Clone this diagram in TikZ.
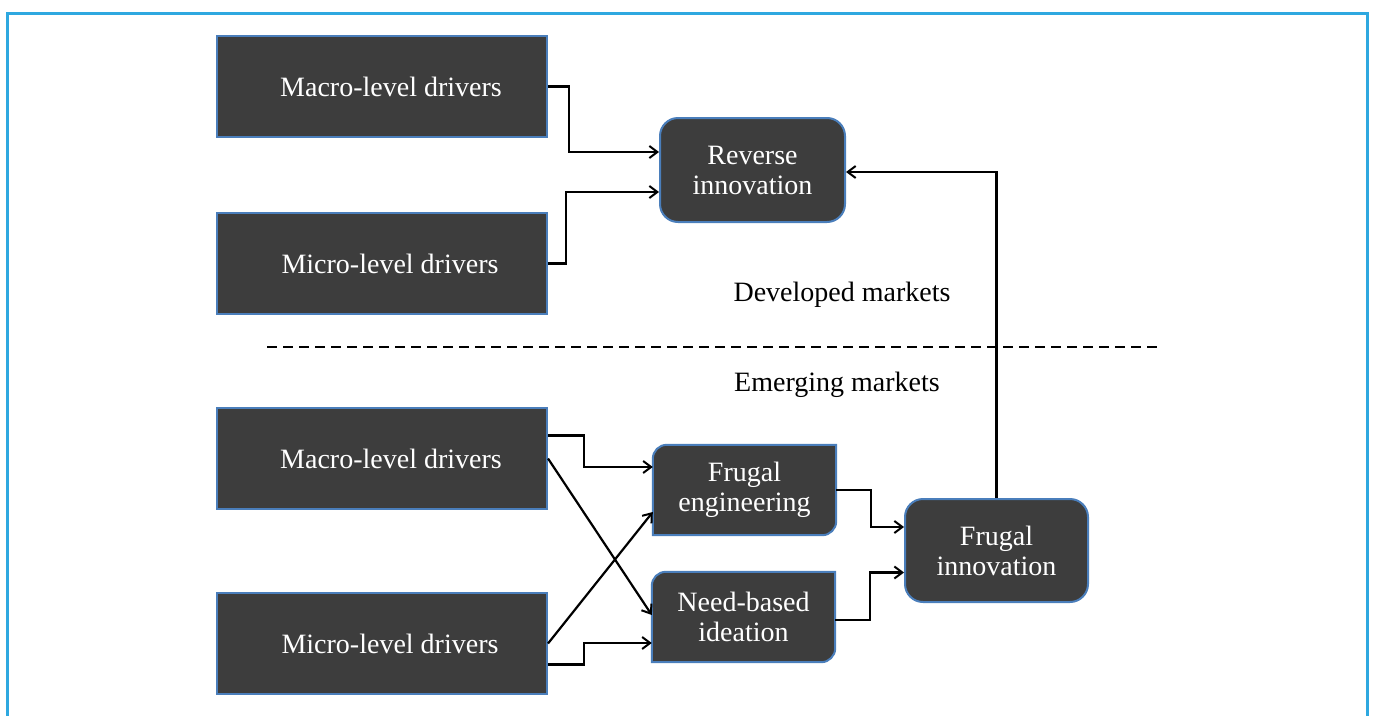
\documentclass[tikz,border=0pt]{standalone}
\usepackage{fontspec}
\setmainfont{Liberation Serif}
\usetikzlibrary{arrows.meta,calc,backgrounds}
\definecolor{frameblue}{HTML}{2EA8E0}
\definecolor{boxgray}{HTML}{3D3D3D}
\definecolor{boxedge}{HTML}{4A7EBB}
\begin{document}
\begin{tikzpicture}[x=1pt,y=-1pt,
  txt/.style={font=\fontsize{28}{30}\selectfont},
  sqbox/.style={txt,draw=boxedge,fill=boxgray,text=white,line width=2pt,minimum width=330pt,minimum height=101pt,inner sep=0pt},
  rbox/.style={txt,draw=boxedge,fill=boxgray,text=white,line width=2pt,rounded corners=18pt,align=center,inner sep=0pt},
  dbox/.style={txt,text=white,align=center,inner sep=0pt,minimum width=183pt,minimum height=90pt},
  diagshape/.style={draw=boxedge,fill=boxgray,line width=2pt},
  conn/.style={line width=2.2pt,-{Straight Barb[length=8pt,width=12pt,line width=2pt]}},
  plain/.style={line width=2.2pt},
  lbl/.style={txt,text=black}
]
\useasboundingbox (0,0) rectangle (1373,715);
\draw[frameblue,line width=3pt] (7,716) -- (7,13) -- (1367,13) -- (1367,716);

\node[sqbox] (mt) at (382,86.5) {\hspace*{18pt}Macro-level drivers};
\node[sqbox] (mi) at (382,263.5) {\hspace*{16pt}Micro-level drivers};
\node[rbox,minimum width=185pt,minimum height=104pt] (ri) at (752.5,170) {Reverse\\innovation};

\node[lbl] (dev) at (842,295) {Developed markets};
\node[lbl] (em) at (837,385) {Emerging markets};
\coordinate (dl) at (267,347);
\coordinate (dr) at (1157,347);
\draw[plain,dash pattern=on 10pt off 6pt] (dl) -- (dr);

\node[sqbox] (mb) at (382,458.5) {\hspace*{18pt}Macro-level drivers};
\node[sqbox] (mc) at (382,643.5) {\hspace*{16pt}Micro-level drivers};
\node[dbox] (fe) at (744.5,490) {Frugal\\engineering};
\node[dbox] (nb) at (743.5,617) {Need-based\\ideation};
\node[rbox,minimum width=183pt,minimum height=103pt] (fi) at (996.5,550.5) {Frugal\\innovation};

\begin{scope}[on background layer]
  \filldraw[diagshape] (fe.south west) -- ([yshift=-14pt]fe.north west) to[out=90,in=180] ([xshift=14pt]fe.north west) -- (fe.north east) -- ([yshift=14pt]fe.south east) to[out=-90,in=0] ([xshift=-14pt]fe.south east) -- cycle;
  \filldraw[diagshape] (nb.south west) -- ([yshift=-14pt]nb.north west) to[out=90,in=180] ([xshift=14pt]nb.north west) -- (nb.north east) -- ([yshift=14pt]nb.south east) to[out=-90,in=0] ([xshift=-14pt]nb.south east) -- cycle;
\end{scope}

% top connectors
\draw[conn] (mt.east) -- ++(21,0) |- ($(ri.west)+(0,-18)$);
\draw[conn] (mi.east) -- ++(18,0) |- ($(ri.west)+(0,22)$);
\draw[conn] (fi.north) |- ($(ri.east)+(0,2)$);

% bottom connectors
\draw[conn] ($(mb.east)+(0,-23)$) -- ++(36,0) |- ($(fe.west)+(0,-23)$);
\draw[conn] (mb.east) -- ($(nb.west)+(0,-2)$);
\draw[conn] (mc.east) -- ($(fe.west)+(0,22)$);
\draw[conn] ($(mc.east)+(0,21)$) -- ++(36,0) |- ($(nb.west)+(0,26)$);
\draw[conn] (fe.east) -- ++(35,0) |- ($(fi.west)+(0,-23.5)$);
\draw[conn] ($(nb.east)+(0,3)$) -- ++(35,0) |- ($(fi.west)+(0,22)$);
\end{tikzpicture}
\end{document}
